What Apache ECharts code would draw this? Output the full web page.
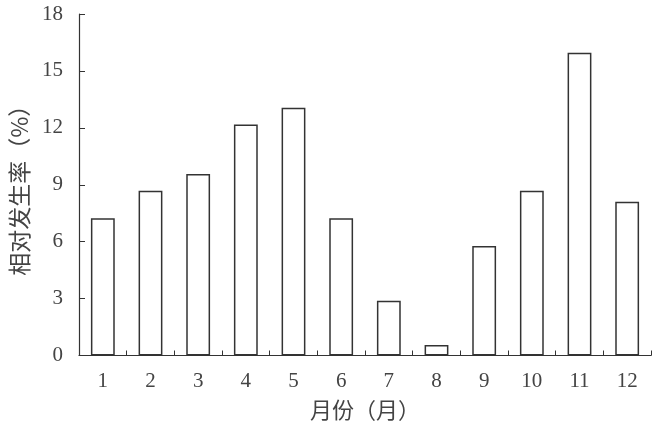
<!DOCTYPE html>
<html>
<head>
<meta charset="utf-8">
<script src="https://cdn.jsdelivr.net/npm/echarts@6/dist/echarts.min.js"></script>
<style>
  html, body { margin: 0; padding: 0; background: #fff; }
  #chart { width: 657px; height: 432px; }
</style>
</head>
<body>
<div id="chart"></div>
<script>
// 月份
const months = ['1', '2', '3', '4', '5', '6', '7', '8', '9', '10', '11', '12']
// 相对发生率 (%)
const rates = [7.23, 8.69, 9.57, 12.17, 13.06, 7.23, 2.89, 0.55, 5.77, 8.69, 15.96, 8.11]
const yTicks = [0, 3, 6, 9, 12, 15, 18]

const serif = '"Liberation Serif", "DejaVu Serif", serif'
const cjk = '"Noto Sans CJK SC", sans-serif'
const lineColor = '#333'
const textColor = '#444'

const chart = echarts.init(document.getElementById('chart'))

chart.setOption({
  animation: false,
  grid: { left: 79, right: 6, top: 14, bottom: 76.5 },
  xAxis: {
    type: 'category',
    data: months,
    name: '月份（月）',
    nameLocation: 'middle',
    nameGap: 43,
    nameTextStyle: { fontFamily: cjk, fontSize: 22, color: textColor },
    axisLine: { lineStyle: { color: lineColor, width: 1.2 } },
    axisTick: { show: true, inside: true, length: 5, alignWithLabel: false, lineStyle: { color: lineColor } },
    axisLabel: { fontFamily: serif, fontSize: 21, color: textColor, margin: 15 }
  },
  yAxis: {
    type: 'value',
    min: yTicks[0],
    max: yTicks[yTicks.length - 1],
    interval: 3,
    name: '相对发生率（%）',
    nameLocation: 'middle',
    nameGap: 47,
    nameTextStyle: { fontFamily: cjk, fontSize: 23, color: textColor },
    axisLine: { show: true, lineStyle: { color: lineColor, width: 1.2 } },
    axisTick: { show: true, inside: true, length: 6, lineStyle: { color: lineColor } },
    axisLabel: { fontFamily: serif, fontSize: 21, color: textColor, margin: 16 },
    splitLine: { show: false }
  },
  series: [
    {
      type: 'bar',
      data: rates,
      barWidth: '50%',
      itemStyle: { color: '#fff', borderColor: lineColor, borderWidth: 1.5 }
    }
  ]
})
</script>
</body>
</html>
